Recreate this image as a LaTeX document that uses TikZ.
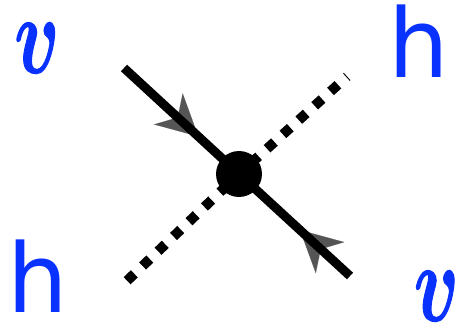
\documentclass[tikz,border=0pt]{standalone}
\usepackage{amsmath,amssymb,graphicx}
\usepackage{fontspec}
\newfontfamily\lblfont{DejaVu Sans}
\newfontfamily\nufont[FakeBold=1.2]{Latin Modern Math}
\definecolor{lblblue}{RGB}{10,50,255}
\definecolor{arrgray}{RGB}{85,85,85}
\usetikzlibrary{arrows.meta,decorations.markings}

\begin{document}
\begin{tikzpicture}[x=0.025cm, y=-0.025cm,
  vertex/.style={circle, fill=black, inner sep=0pt, minimum size=32.7pt},
  fermion/.style={line width=6.4pt, preaction={decorate, decoration={markings,
    mark=at position 0.33 with {\arrow{Stealth[color=arrgray, length=29pt, width=30pt, inset=9pt, line width=0.01pt]}},
    mark=at position 0.78 with {\arrowreversed{Stealth[color=arrgray, length=29pt, width=30pt, inset=9pt, line width=0.01pt]}}}}},
  scalar/.style={line width=7.1pt, dash pattern=on 7.1pt off 8.1pt},
  nulabel/.style={text=lblblue, inner sep=0pt},
  hlabel/.style={text=lblblue, inner sep=0pt, font=\lblfont\fontsize{68}{68}\selectfont}]
  \useasboundingbox (0,0) rectangle (457,327);

  % Vertex and line ends
  \node[vertex] (vtx) at (239,174) {};
  \coordinate (fin) at (124,68);
  \coordinate (fout) at (350,276);
  \coordinate (sin) at (127.1,280.7);
  \coordinate (sout) at (347.1,76.5);

  % Lines
  \draw[scalar] (sin) -- (vtx.center) -- (sout);
  \draw[fermion] (fin) -- (vtx.center) -- (fout);

  % Labels
  \node[nulabel] (nuin) at (35.5,48) {\scalebox{5.3}[7.9]{\nufont 𝒗}};
  \node[nulabel] (nuout) at (435,296) {\scalebox{5.3}[7.9]{\nufont 𝒗}};
  \node[hlabel] (hout) at (419,41.5) {h};
  \node[hlabel] (hin) at (37.5,276) {h};
\end{tikzpicture}
\end{document}
